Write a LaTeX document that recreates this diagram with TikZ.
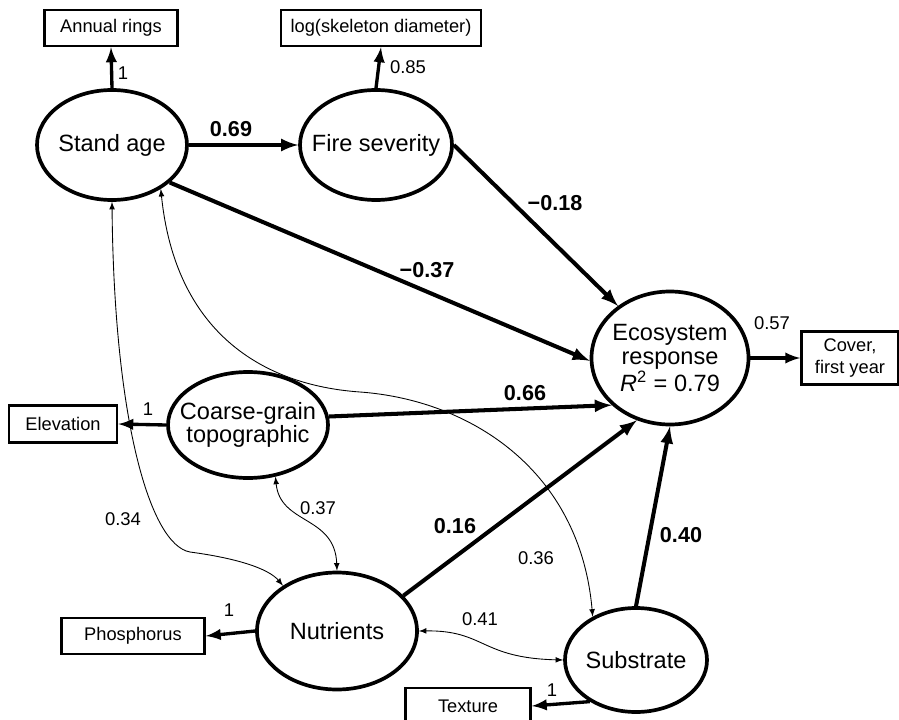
\documentclass[tikz,border=0pt]{standalone}
\usepackage{fontspec}
\setmainfont{Liberation Sans}
\usetikzlibrary{shapes.geometric,arrows}
\newcommand{\lv}[1]{\makebox[0pt]{#1}}

\begin{document}
\begin{tikzpicture}[x=0.2mm, y=-0.2mm]
    \tikzset{lvar/.style={ellipse, draw, line width=2.1pt, inner sep=0pt, align=center, font=\fontsize{13.4}{13.5}\selectfont}}
    \tikzset{mvar/.style={rectangle, draw, line width=1.5pt, inner sep=0pt, align=center, minimum height=7.2mm, font=\fontsize{10.4}{12}\selectfont}}
    \tikzset{parrow/.style={-latex, line width=2.3pt}}
    \tikzset{marrow/.style={-latex, line width=1.9pt}}
    \tikzset{carrow/.style={latex-latex, line width=0.5pt}}
    \tikzset{coef/.style={font=\fontsize{12.3}{13}\selectfont\bfseries, inner sep=0pt}}
    \tikzset{load/.style={font=\fontsize{10.5}{12}\selectfont, inner sep=0pt}}

    \useasboundingbox (0,0) rectangle (899,720);

    % Latent variables:
    \node[lvar, minimum width=30mm, minimum height=22mm] (age) at (112,145) {\lv{Stand age}};
    \node[lvar, minimum width=30.4mm, minimum height=22mm] (fire) at (376,145) {\lv{Fire severity}};
    \node[lvar, minimum width=31.4mm, minimum height=26.6mm] (eco) at (670,358) {\lv{Ecosystem}\\\lv{response}\\\lv{\textit{R}\textsuperscript{2} = 0.79}};
    \node[lvar, minimum width=32mm, minimum height=21.2mm] (topo) at (248,425) {\lv{Coarse-grain}\\\lv{topographic}};
    \node[lvar, minimum width=32mm, minimum height=23.4mm] (nutr) at (337,631) {\lv{Nutrients}};
    \node[lvar, minimum width=28.4mm, minimum height=20.8mm] (subs) at (636,660) {\lv{Substrate}};

    % Measured variables:
    \node[mvar, minimum width=26.6mm] (rings) at (111,28) {Annual rings};
    \node[mvar, minimum width=40mm] (skel) at (381,28) {log(skeleton diameter)};
    \node[mvar, minimum width=21.6mm, minimum height=7.4mm] (elev) at (63,424) {Elevation};
    \node[mvar, minimum width=28.6mm] (phos) at (133,636) {Phosphorus};
    \node[mvar, minimum width=25mm] (text) at (468,706) {Texture};
    \node[mvar, minimum width=19.4mm, minimum height=10.6mm] (cover) at (850,358) {Cover,\\first year};

    % Loadings:
    \draw[marrow] (age.north) -- (rings.south);
    \draw[marrow] (fire.north) -- (skel.south);
    \draw[marrow] (topo.west) -- (elev.east);
    \draw[marrow] (nutr.west) -- (phos.east);
    \draw[marrow] (subs.222) -- (text.east);
    \draw[marrow] (eco.east) -- (cover.west);

    % Paths:
    \draw[parrow] (age.east) -- (fire.west);
    \draw[parrow] (fire.east) -- (eco.135);
    \draw[parrow] (age.-33) -- (eco.182);
    \draw[parrow] (topo.6) -- (eco.219);
    \draw[parrow] (nutr.28) -- (eco.242);
    \draw[parrow] (subs.north) -- (eco.south);

    % Correlations:
    \draw[carrow] (age.south) .. controls (114,420) and (150,545) .. (190,552) .. controls (235,558) and (268,568) .. (nutr.140);
    \draw[carrow] (age.-42) .. controls (175,330) and (260,385) .. (360,392) .. controls (470,400) and (580,470) .. (subs.135);
    \draw[carrow] (topo.-62) .. controls (280,525) and (335,515) .. (nutr.north);
    \draw[carrow] (nutr.east) .. controls (485,630) and (480,658) .. (subs.west);

    % Coefficients:
    \node[load] (l-rings) at (123,73) {1};
    \node[load] (l-skel) at (408,67) {0.85};
    \node[load] (l-elev) at (148,409) {1};
    \node[load] (l-phos) at (229,610) {1};
    \node[load] (l-text) at (552,690) {1};
    \node[load] (l-cover) at (772,323) {0.57};
    \node[load] (r-34) at (123,519) {0.34};
    \node[load] (r-37) at (318,508) {0.37};
    \node[load] (r-36) at (536,558) {0.36};
    \node[load] (r-41) at (480,619) {0.41};
    \node[coef] (p-69) at (231,129) {0.69};
    \node[coef] (p-18) at (555,203) {−0.18};
    \node[coef] (p-37) at (427,270) {−0.37};
    \node[coef] (p-66) at (525,393) {0.66};
    \node[coef] (p-16) at (455,526) {0.16};
    \node[coef] (p-40) at (681,535) {0.40};
\end{tikzpicture}
\end{document}
